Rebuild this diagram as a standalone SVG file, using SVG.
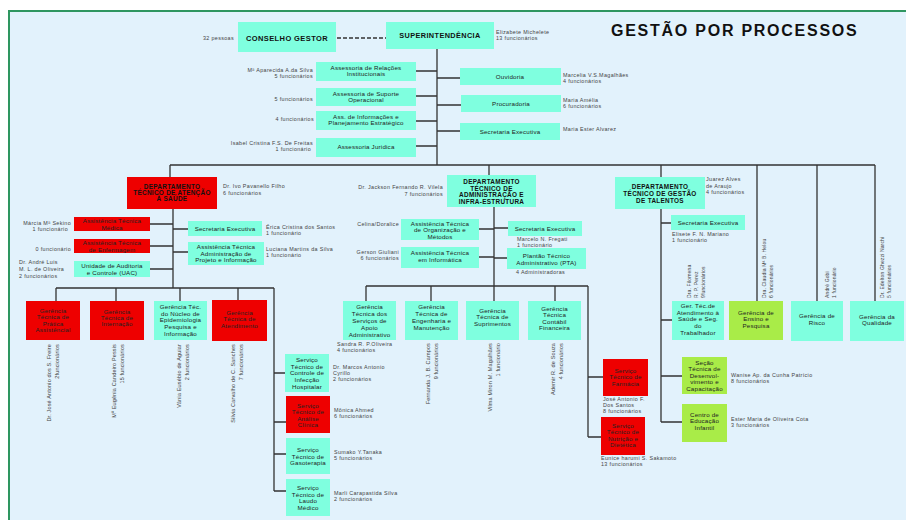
<svg xmlns="http://www.w3.org/2000/svg" width="906" height="520" viewBox="0 0 906 520">
<style>
text{font-family:"Liberation Sans",Arial,sans-serif}
.c{fill:#7fffdf}
.r{fill:#ee0000}
.g{fill:#a9ec48}
.t{font-size:6.2px;fill:#222;text-anchor:middle;letter-spacing:0.2px}
.d{font-size:6.4px;font-weight:bold;fill:#111;text-anchor:middle;letter-spacing:0.3px}
.l{font-size:5.4px;fill:#444;letter-spacing:0.35px}
.e{text-anchor:end}
.v{font-size:5px;fill:#444;letter-spacing:0.15px}
.w{font-size:5.5px}
.ln{stroke:#333;stroke-width:1.3;fill:none}
</style>
<rect x="0" y="0" width="906" height="520" fill="#ffffff"/>
<rect x="9" y="11" width="897" height="509" fill="#e2f2fc"/>
<path d="M9 520V11H906" fill="none" stroke="#2e9660" stroke-width="2"/>
<text x="611" y="36" font-size="16" font-weight="bold" fill="#111" letter-spacing="1.75">GESTÃO POR PROCESSOS</text>

<g id="connectors" class="ln">
<path d="M337 38H386" stroke-dasharray="4 2"/>
<path d="M437 49V165M416 71H437M416 96H437M416 121H437M416 146H437M437 78H460M437 105H461M437 131H460"/>
<path d="M170 165H875M170 165V177M489 165V175M661 165V177M757 165V301M817 165V301M875 165V301"/>
<path d="M173 209V288M150 224H173M150 246H173M150 269H173M173 229H188M173 252H188"/>
<path d="M56 288H274M56 288V301M116 288V301M180 288V301M238 288V300M274 288V491M274 373H285M274 422H286M274 454H286M274 491H286"/>
<path d="M494 207V286M479 229H494M479 257H494M494 228H508M494 258H507"/>
<path d="M366 286H588M366 286V301M431 286V301M494 286V301M555 286V301M588 286V437M588 377H603M588 437H601"/>
<path d="M661 209V422M661 223H671M661 320H672M661 376H682M661 422H682"/>
</g>

<g id="conselho">
<rect class="c" x="238" y="22" width="98" height="30"/>
<text x="287" y="40.5" font-size="7.5" font-weight="bold" fill="#111" text-anchor="middle" letter-spacing="0.4">CONSELHO GESTOR</text>
<text class="l e" x="234" y="39.5">32 pessoas</text>
</g>
<g id="superintendencia">
<rect class="c" x="386" y="22" width="108" height="27"/>
<text x="440" y="37.5" font-size="7.3" font-weight="bold" fill="#111" text-anchor="middle" letter-spacing="0.4">SUPERINTENDÊNCIA</text>
<text class="l" x="496" y="34">Elizabete Michelete</text>
<text class="l" x="496" y="40">13 funcionários</text>
</g>
<g id="ass-relacoes">
<rect class="c" x="316" y="62" width="100" height="19"/>
<text class="t" x="366" y="69.5">Assessoria de Relações</text>
<text class="t" x="366" y="75.5">Institucionais</text>
<text class="l e" x="313" y="72">Mª Aparecida A.da Silva</text>
<text class="l e" x="313" y="78">5 funcionários</text>
</g>
<g id="ass-suporte">
<rect class="c" x="316" y="88" width="100" height="18"/>
<text class="t" x="366" y="95.5">Assessoria de Suporte</text>
<text class="t" x="366" y="101.5">Operacional</text>
<text class="l e" x="313" y="101">5 funcionários</text>
</g>
<g id="ass-informacoes">
<rect class="c" x="316" y="111" width="100" height="19"/>
<text class="t" x="366" y="119">Ass. de Informações e</text>
<text class="t" x="366" y="125">Planejamento Estratégico</text>
<text class="l e" x="314" y="121">4 funcionários</text>
</g>
<g id="ass-juridica">
<rect class="c" x="316" y="138" width="100" height="19"/>
<text class="t" x="366" y="148.5">Assessoria Juridica</text>
<text class="l e" x="313" y="145">Isabel Cristina F.S. De Freitas</text>
<text class="l e" x="311" y="151">1 funcionário</text>
</g>
<g id="ouvidoria">
<rect class="c" x="460" y="68" width="101" height="17"/>
<text class="t" x="510" y="78.5">Ouvidoria</text>
<text class="l" x="563" y="77">Marcelia V.S.Magalhães</text>
<text class="l" x="563" y="83">4 funcionários</text>
</g>
<g id="procuradoria">
<rect class="c" x="461" y="95" width="100" height="17"/>
<text class="t" x="511" y="106">Procuradoria</text>
<text class="l" x="563" y="102">Maria Amélia</text>
<text class="l" x="563" y="108">6 funcionários</text>
</g>
<g id="sec-exec-sup">
<rect class="c" x="460" y="123" width="100" height="17"/>
<text class="t" x="510" y="133.5">Secretaria Executiva</text>
<text class="l" x="563" y="131">Maria Ester Alvarez</text>
</g>

<g id="dep-saude">
<rect class="r" x="127" y="177" width="90" height="32"/>
<text class="d" x="172" y="188.5">DEPARTAMENTO</text>
<text class="d" x="172" y="194.5">TÉCNICO DE ATENÇÃO</text>
<text class="d" x="172" y="200.5">À SAÚDE</text>
<text class="l" x="223" y="188">Dr. Ivo Pavanello Filho</text>
<text class="l" x="223" y="194.5">6 funcionários</text>
</g>
<g id="at-medica">
<rect class="r" x="74" y="217" width="76" height="14"/>
<text class="t" x="112" y="223">Assistência Técnica</text>
<text class="t" x="112" y="229.5">Médica</text>
<text class="l e" x="71" y="224.5">Márcia Mª Sekino</text>
<text class="l e" x="68" y="230.5">1 funcionário</text>
</g>
<g id="at-enfermagem">
<rect class="r" x="74" y="239" width="76" height="14"/>
<text class="t" x="112" y="245">Assistência Técnica</text>
<text class="t" x="112" y="251.5">de Enfermagem</text>
<text class="l e" x="71" y="251">0 funcionário</text>
</g>
<g id="uac">
<rect class="c" x="74" y="261" width="76" height="16"/>
<text class="t" x="112" y="268">Unidade de Auditoria</text>
<text class="t" x="112" y="275">e Controle (UAC)</text>
<text class="l" x="19" y="264">Dr. André Luis</text>
<text class="l" x="19" y="270.5">M. L. de Oliveira</text>
<text class="l" x="19" y="278">2 funcionários</text>
</g>
<g id="sec-exec-saude">
<rect class="c" x="188" y="221" width="74" height="15"/>
<text class="t" x="225" y="231">Secretaria Executiva</text>
<text class="l" x="266" y="229">Érica Cristina dos Santos</text>
<text class="l" x="266" y="235">1 funcionário</text>
</g>
<g id="at-projeto">
<rect class="c" x="188" y="242" width="76" height="23"/>
<text class="t" x="226" y="249">Assistência Técnica</text>
<text class="t" x="226" y="255.5">Administração de</text>
<text class="t" x="226" y="262">Projeto e Informação</text>
<text class="l" x="266" y="251">Luciana Martins da Silva</text>
<text class="l" x="266" y="257">1 funcionário</text>
</g>
<g id="ger-pratica">
<rect class="r" x="26" y="301" width="54" height="39"/>
<text class="t" x="53" y="312.5">Gerência</text>
<text class="t" x="53" y="319">Técnica de</text>
<text class="t" x="53" y="325.5">Prática</text>
<text class="t" x="53" y="332">Assistêncial</text>
<text class="v w e" transform="translate(51,344) rotate(-90)"><tspan x="0">Dr. José Antonio dos S. Freire</tspan><tspan x="0" dy="7.5">2funcionários</tspan></text>
</g>
<g id="ger-internacao">
<rect class="r" x="90" y="301" width="54" height="39"/>
<text class="t" x="117" y="314">Gerência</text>
<text class="t" x="117" y="320">Técnica de</text>
<text class="t" x="117" y="326">Internação</text>
<text class="v w e" transform="translate(116,344) rotate(-90)"><tspan x="0">Mª Eugênia Candeiro Pessis</tspan><tspan x="0" dy="7.5">15 funcionários</tspan></text>
</g>
<g id="ger-epidemiologia">
<rect class="c" x="154" y="301" width="53" height="39"/>
<text class="t" x="180.5" y="309">Gerência Téc.</text>
<text class="t" x="180.5" y="315.5">do Núcleo de</text>
<text class="t" x="180.5" y="322">Epidemiologia</text>
<text class="t" x="180.5" y="328.5">Pesquisa e</text>
<text class="t" x="180.5" y="335.5">Informação</text>
<text class="v w e" transform="translate(181,344) rotate(-90)"><tspan x="0">Vânia Eusébio de Aguiar</tspan><tspan x="0" dy="7.5">2 funcionários</tspan></text>
</g>
<g id="ger-atendimento">
<rect class="r" x="212" y="300" width="55" height="41"/>
<text class="t" x="239.5" y="315">Gerência</text>
<text class="t" x="239.5" y="321">Técnica de</text>
<text class="t" x="239.5" y="328">Atendimento</text>
<text class="v w e" transform="translate(235,344) rotate(-90)"><tspan x="0">Silvia Carvalho de C. Sanches</tspan><tspan x="0" dy="7.5">7 funcionários</tspan></text>
</g>
<g id="st-infeccao">
<rect class="c" x="285" y="354" width="44" height="38"/>
<text class="t" x="307" y="362">Serviço</text>
<text class="t" x="307" y="368.5">Técnico de</text>
<text class="t" x="307" y="375">Controle de</text>
<text class="t" x="307" y="382">Infecção</text>
<text class="t" x="307" y="389">Hospitalar</text>
<text class="l" x="333" y="369">Dr. Marcos Antonio</text>
<text class="l" x="333" y="375">Cyrillo</text>
<text class="l" x="333" y="381">2 funcionários</text>
</g>
<g id="st-analise">
<rect class="r" x="286" y="396" width="44" height="37"/>
<text class="t" x="308" y="408">Serviço</text>
<text class="t" x="308" y="414">Técnico de</text>
<text class="t" x="308" y="420.5">Análise</text>
<text class="t" x="308" y="427">Clínica</text>
<text class="l" x="334" y="412">Mônica Ahmed</text>
<text class="l" x="334" y="418">6 funcionários</text>
</g>
<g id="st-gasoterapia">
<rect class="c" x="286" y="438" width="44" height="36"/>
<text class="t" x="308" y="452">Serviço</text>
<text class="t" x="308" y="458.5">Técnico de</text>
<text class="t" x="308" y="465">Gasoterapia</text>
<text class="l" x="334" y="454">Sumako Y.Tanaka</text>
<text class="l" x="334" y="460">5 funcionários</text>
</g>
<g id="st-laudo">
<rect class="c" x="286" y="479" width="44" height="37"/>
<text class="t" x="308" y="490">Serviço</text>
<text class="t" x="308" y="496.5">Técnico de</text>
<text class="t" x="308" y="503">Laudo</text>
<text class="t" x="308" y="510">Médico</text>
<text class="l" x="334" y="495">Marli Carapastida Silva</text>
<text class="l" x="334" y="501">2 funcionários</text>
</g>

<g id="dep-administracao">
<rect class="c" x="447" y="175" width="89" height="32"/>
<text class="d" x="491.5" y="184">DEPARTAMENTO</text>
<text class="d" x="491.5" y="190.5">TÉCNICO DE</text>
<text class="d" x="491.5" y="197">ADMINISTRAÇÃO E</text>
<text class="d" x="491.5" y="204">INFRA-ESTRUTURA</text>
<text class="l e" x="443" y="189">Dr. Jackson Fernando R. Vilela</text>
<text class="l e" x="443" y="195.5">7 funcionários</text>
</g>
<g id="at-organizacao">
<rect class="c" x="401" y="219" width="78" height="21"/>
<text class="t" x="440" y="225.5">Assistência Técnica</text>
<text class="t" x="440" y="232">de Organização e</text>
<text class="t" x="440" y="238.5">Métodos</text>
<text class="l e" x="399" y="226">Celina/Doralice</text>
</g>
<g id="at-informatica">
<rect class="c" x="401" y="247" width="78" height="21"/>
<text class="t" x="440" y="255">Assistência Técnica</text>
<text class="t" x="440" y="261.5">em Informática</text>
<text class="l e" x="399" y="253.5">Gerson Giuliani</text>
<text class="l e" x="399" y="260">6 funcionários</text>
</g>
<g id="sec-exec-adm">
<rect class="c" x="508" y="221" width="74" height="15"/>
<text class="t" x="545" y="230.5">Secretaria Executiva</text>
<text class="l" x="517" y="240.5">Marcelo N. Fregati</text>
<text class="l" x="517" y="246.5">1 funcionário</text>
</g>
<g id="plantao">
<rect class="c" x="507" y="248" width="79" height="21"/>
<text class="t" x="546.5" y="258">Plantão Técnico</text>
<text class="t" x="546.5" y="264.5">Administrativo (PTA)</text>
<text class="l" x="516" y="273.5">4 Administradoras</text>
</g>
<g id="ger-apoio">
<rect class="c" x="343" y="301" width="53" height="39"/>
<text class="t" x="369.5" y="309">Gerência</text>
<text class="t" x="369.5" y="316">Técnica dos</text>
<text class="t" x="369.5" y="323">Serviços de</text>
<text class="t" x="369.5" y="330">Apoio</text>
<text class="t" x="369.5" y="337">Administrativo</text>
<text class="l" x="337" y="345.5">Sandra R. P.Oliveira</text>
<text class="l" x="337" y="351.5">4 funcionários</text>
</g>
<g id="ger-engenharia">
<rect class="c" x="405" y="301" width="53" height="39"/>
<text class="t" x="431.5" y="309">Gerência</text>
<text class="t" x="431.5" y="316">Técnica de</text>
<text class="t" x="431.5" y="323">Engenharia e</text>
<text class="t" x="431.5" y="330">Manutenção</text>
<text class="v w e" transform="translate(430,343) rotate(-90)"><tspan x="0">Fernanda J. B. Campos</tspan><tspan x="0" dy="7.5">9 funcionários</tspan></text>
</g>
<g id="ger-suprimentos">
<rect class="c" x="466" y="301" width="53" height="39"/>
<text class="t" x="492.5" y="313">Gerência</text>
<text class="t" x="492.5" y="319">Técnica de</text>
<text class="t" x="492.5" y="325.5">Suprimentos</text>
<text class="v w e" transform="translate(492,343) rotate(-90)"><tspan x="0">Vilma Miron M. Magalhães</tspan><tspan x="0" dy="7.5">1 funcionário</tspan></text>
</g>
<g id="ger-contabil">
<rect class="c" x="528" y="301" width="53" height="39"/>
<text class="t" x="554.5" y="311">Gerência</text>
<text class="t" x="554.5" y="317">Técnica</text>
<text class="t" x="554.5" y="323.5">Contábil</text>
<text class="t" x="554.5" y="330">Financeira</text>
<text class="v w e" transform="translate(555,343) rotate(-90)"><tspan x="0">Ademir R. de Souza</tspan><tspan x="0" dy="7.5">4 funcionários</tspan></text>
</g>
<g id="st-farmacia">
<rect class="r" x="603" y="359" width="45" height="37"/>
<text class="t" x="625.5" y="373">Serviço</text>
<text class="t" x="625.5" y="379">Técnico de</text>
<text class="t" x="625.5" y="386">Farmácia</text>
<text class="l" x="603" y="400.5">José Antonio F.</text>
<text class="l" x="603" y="406.5">Dos Santos</text>
<text class="l" x="603" y="412.5">8 funcionários</text>
</g>
<g id="st-nutricao">
<rect class="r" x="601" y="417" width="44" height="38"/>
<text class="t" x="623" y="428">Serviço</text>
<text class="t" x="623" y="434">Técnico de</text>
<text class="t" x="623" y="440.5">Nutrição e</text>
<text class="t" x="623" y="447">Dietética</text>
<text class="l" x="601" y="459.5">Eunice harumi S. Sakamoto</text>
<text class="l" x="601" y="465.5">13 funcionários</text>
</g>

<g id="dep-talentos">
<rect class="c" x="615" y="177" width="90" height="32"/>
<text class="d" x="660" y="189">DEPARTAMENTO</text>
<text class="d" x="660" y="196">TÉCNICO DE GESTÃO</text>
<text class="d" x="660" y="203">DE TALENTOS</text>
<text class="l" x="706" y="181">Juarez Alves</text>
<text class="l" x="706" y="187.5">de Araujo</text>
<text class="l" x="706" y="194">4 funcionários</text>
</g>
<g id="sec-exec-talentos">
<rect class="c" x="671" y="215" width="74" height="15"/>
<text class="t" x="708" y="225">Secretaria Executiva</text>
<text class="l" x="672" y="235.5">Elisete F. N. Mariano</text>
<text class="l" x="672" y="241.5">1 funcionário</text>
</g>
<g id="ger-saude-trabalhador">
<rect class="c" x="672" y="301" width="52" height="39"/>
<text class="t" x="698" y="308">Ger. Téc.de</text>
<text class="t" x="698" y="314.5">Atendimento à</text>
<text class="t" x="698" y="321">Saúde e Seg.</text>
<text class="t" x="698" y="328">do</text>
<text class="t" x="698" y="335">Trabalhador</text>
<text class="v" transform="translate(691,298) rotate(-90)"><tspan x="0">Dra. Filomena</tspan><tspan x="0" dy="7">R. P. Perez</tspan><tspan x="0" dy="7">9funcionários</tspan></text>
</g>
<g id="ger-ensino">
<rect class="g" x="729" y="301" width="54" height="39"/>
<text class="t" x="756" y="315">Gerência de</text>
<text class="t" x="756" y="321">Ensino e</text>
<text class="t" x="756" y="328">Pesquisa</text>
<text class="v" transform="translate(766,298) rotate(-90)"><tspan x="0">Dra. Claudia Mª B. Helou</tspan><tspan x="0" dy="7">6 funcionários</tspan></text>
</g>
<g id="ger-risco">
<rect class="c" x="791" y="301" width="52" height="40"/>
<text class="t" x="817" y="318">Gerência de</text>
<text class="t" x="817" y="324.5">Risco</text>
<text class="v" transform="translate(829,298) rotate(-90)"><tspan x="0">André Gobi</tspan><tspan x="0" dy="7">1 funcionário</tspan></text>
</g>
<g id="ger-qualidade">
<rect class="c" x="850" y="301" width="54" height="40"/>
<text class="t" x="877" y="318.5">Gerência da</text>
<text class="t" x="877" y="325">Qualidade</text>
<text class="v" transform="translate(884,298) rotate(-90)"><tspan x="0">Dr. Edelton Ghezzi Narchi</tspan><tspan x="0" dy="7">5 funcionários</tspan></text>
</g>
<g id="secao-desenvolvimento">
<rect class="g" x="682" y="357" width="45" height="37"/>
<text class="t" x="704.5" y="365">Seção</text>
<text class="t" x="704.5" y="371">Técnica de</text>
<text class="t" x="704.5" y="377.5">Desenvol-</text>
<text class="t" x="704.5" y="384">vimento e</text>
<text class="t" x="704.5" y="391">Capacitação</text>
<text class="l" x="731" y="376.5">Wanise Ap. da Cunha Patrício</text>
<text class="l" x="731" y="382.5">8 funcionários</text>
</g>
<g id="centro-educacao">
<rect class="g" x="682" y="404" width="45" height="38"/>
<text class="t" x="704.5" y="417">Centro de</text>
<text class="t" x="704.5" y="423">Educação</text>
<text class="t" x="704.5" y="430">Infantil</text>
<text class="l" x="731" y="421">Ester Maria de Oliveira Cota</text>
<text class="l" x="731" y="427">3 funcionários</text>
</g>
</svg>
